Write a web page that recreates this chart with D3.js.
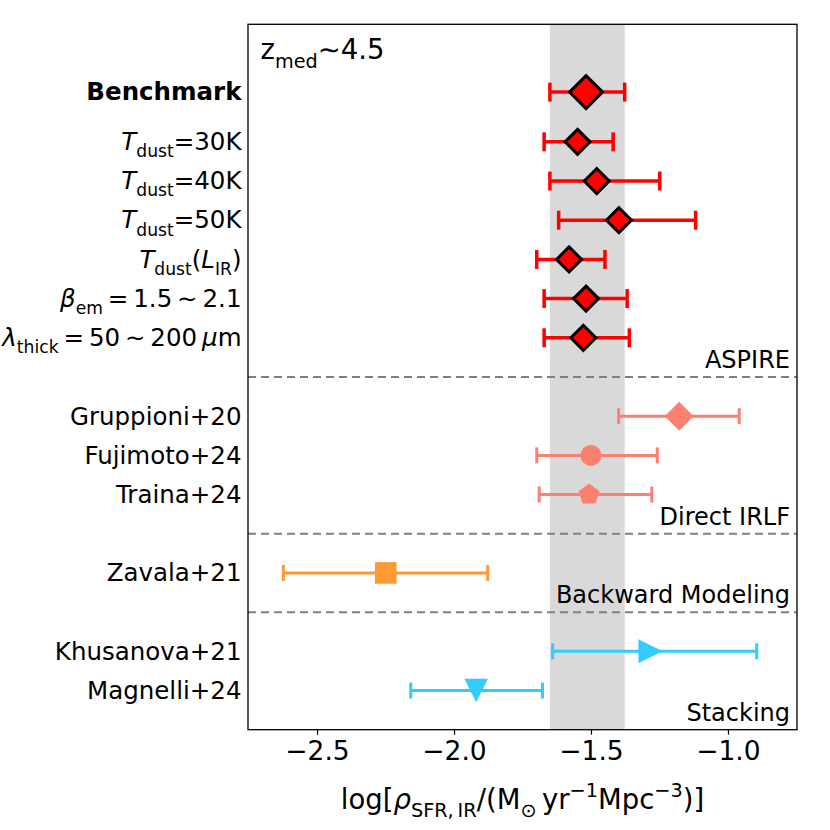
<!DOCTYPE html>
<html>
<head>
<meta charset="utf-8">
<script src="https://cdn.jsdelivr.net/npm/d3@7"></script>
<style>
  body { margin: 0; background: #fff; }
  svg { font-family: "DejaVu Sans", sans-serif; }
</style>
</head>
<body>
<svg id="chart" width="830" height="830"></svg>
<script>
// rows, top to bottom
const rowNames = ['Benchmark', 'Tdust=30K', 'Tdust=40K', 'Tdust=50K', 'Tdust(LIR)', 'beta_em', 'lambda_thick',
  'Gruppioni+20', 'Fujimoto+24', 'Traina+24', 'Zavala+21', 'Khusanova+21', 'Magnelli+24'];
const rowY = [16.27, 15, 14, 13, 12, 11, 10, 8, 7, 6, 4, 2, 1];
const centers = [-1.518, -1.549, -1.479, -1.398, -1.580, -1.518, -1.528, -1.178, -1.500, -1.507, -2.249, -1.283, -1.919];
const lowers  = [-1.650, -1.671, -1.650, -1.618, -1.698, -1.671, -1.671, -1.399, -1.698, -1.689, -2.623, -1.640, -2.158];
const uppers  = [-1.377, -1.419, -1.249, -1.118, -1.449, -1.368, -1.360, -0.959, -1.258, -1.278, -1.877, -0.895, -1.677];
const markers = ['D', 'D', 'D', 'D', 'D', 'D', 'D', 'D', 'o', 'p', 's', '>', 'v'];
const groups  = ['ASPIRE', 'ASPIRE', 'ASPIRE', 'ASPIRE', 'ASPIRE', 'ASPIRE', 'ASPIRE',
  'Direct IRLF', 'Direct IRLF', 'Direct IRLF', 'Backward Modeling', 'Stacking', 'Stacking'];

// tick label text pieces: [text, kind]  (thin spaces as in mathtext)
const labelParts = [
  [['Benchmark', 'b']],
  [['T', 'i'], ['dust', 'sub'], ['=30K', '']],
  [['T', 'i'], ['dust', 'sub'], ['=40K', '']],
  [['T', 'i'], ['dust', 'sub'], ['=50K', '']],
  [['T', 'i'], ['dust', 'sub'], ['(', ''], ['L', 'i'], ['IR', 'sub'], [')', '']],
  [['β', 'i'], ['em', 'sub'], ['\u2009=\u20091.5\u2009∼\u20092.1', '']],
  [['λ', 'i'], ['thick', 'sub'], ['\u2009=\u200950\u2009∼\u2009200\u2009', ''], ['μ', 'i'], ['m', '']],
  [['Gruppioni+20', '']],
  [['Fujimoto+24', '']],
  [['Traina+24', '']],
  [['Zavala+21', '']],
  [['Khusanova+21', '']],
  [['Magnelli+24', '']]
];

const sectionNames = ['ASPIRE', 'Direct IRLF', 'Backward Modeling', 'Stacking'];
const sectionFloor = [9, 5, 3, 0];
const dividers = [9, 5, 3];
const band = [-1.650, -1.377];
const xTicks = [-2.5, -2.0, -1.5, -1.0];
const xDomain = [-2.752, -0.748];
const yDomain = [0, 18];

const colors = {
  'ASPIRE': '#ff0000',
  'Direct IRLF': '#fa8072',
  'Backward Modeling': '#ff9933',
  'Stacking': '#33ccff'
};

const svg = d3.select('#chart');
const margin = { top: 24.3, right: 33, bottom: 100.3, left: 248 };
const width = 830, height = 830;

const x = d3.scaleLinear().domain(xDomain).range([margin.left, width - margin.right]);
const y = d3.scaleLinear().domain(yDomain).range([height - margin.bottom, margin.top]);

// shaded band
svg.append('rect')
  .attr('x', x(band[0]))
  .attr('y', y(yDomain[1]))
  .attr('width', x(band[1]) - x(band[0]))
  .attr('height', y(yDomain[0]) - y(yDomain[1]))
  .attr('fill', 'gray')
  .attr('fill-opacity', 0.3);

// dividers
svg.append('g')
  .selectAll('line')
  .data(dividers)
  .enter()
  .append('line')
  .attr('x1', x(xDomain[0]))
  .attr('x2', x(xDomain[1]))
  .attr('y1', d => y(d))
  .attr('y2', d => y(d))
  .attr('stroke', 'gray')
  .attr('stroke-width', 2)
  .attr('stroke-dasharray', '8,5');

// error bars
const idx = d3.range(rowNames.length);
const bars = svg.append('g');
idx.forEach(i => {
  const c = colors[groups[i]];
  const red = groups[i] === 'ASPIRE';
  const lw = red ? 3.5 : 3;
  const cap = red ? 9.5 : 8;
  const yy = y(rowY[i]);
  bars.append('line')
    .attr('x1', x(lowers[i])).attr('x2', x(uppers[i]))
    .attr('y1', yy).attr('y2', yy)
    .attr('stroke', c).attr('stroke-width', lw);
  [lowers[i], uppers[i]].forEach(v => {
    bars.append('line')
      .attr('x1', x(v)).attr('x2', x(v))
      .attr('y1', yy - cap).attr('y2', yy + cap)
      .attr('stroke', c).attr('stroke-width', lw);
  });
});

function markerPath(type, h) {
  if (type === 'D') return `M0,${-h}L${h},0L0,${h}L${-h},0Z`;
  if (type === 's') return `M${-h},${-h}H${h}V${h}H${-h}Z`;
  if (type === '>') return `M${h},0L${-h},${-h}L${-h},${h}Z`;
  if (type === 'v') return `M${-h},${-h}L${h},${-h}L0,${h}Z`;
  if (type === 'p') {
    const pts = d3.range(5).map(k => {
      const a = -Math.PI / 2 + k * 2 * Math.PI / 5;
      return [h * Math.cos(a), h * Math.sin(a)];
    });
    return 'M' + pts.map(p => p.join(',')).join('L') + 'Z';
  }
  return d3.symbol(d3.symbolCircle, Math.PI * h * h)();
}

const markerHalf = { 'D': 12.5, 'o': 10.5, 'p': 11, 's': 10.8, '>': 12, 'v': 11.8 };

svg.append('g')
  .selectAll('path')
  .data(idx)
  .enter()
  .append('path')
  .attr('transform', i => `translate(${x(centers[i])},${y(rowY[i])})`)
  .attr('d', i => {
    let h = markerHalf[markers[i]];
    if (i === 0) h = 16.5;
    if (groups[i] === 'Direct IRLF' && markers[i] === 'D') h = 14.5;
    return markerPath(markers[i], h);
  })
  .attr('fill', i => colors[groups[i]])
  .attr('stroke', i => groups[i] === 'ASPIRE' ? '#000' : 'none')
  .attr('stroke-width', 3)
  .attr('stroke-linejoin', 'miter');

// section labels
svg.append('g')
  .selectAll('text')
  .data(sectionNames)
  .enter()
  .append('text')
  .attr('x', x(xDomain[1]) - 7)
  .attr('y', (d, i) => y(sectionFloor[i]) - 9)
  .attr('text-anchor', 'end')
  .attr('font-size', 24)
  .text(d => d);

// frame
svg.append('rect')
  .attr('x', x(xDomain[0]))
  .attr('y', y(yDomain[1]))
  .attr('width', x(xDomain[1]) - x(xDomain[0]))
  .attr('height', y(yDomain[0]) - y(yDomain[1]))
  .attr('fill', 'none')
  .attr('stroke', '#000')
  .attr('stroke-width', 1.3);

// x axis
const xAxis = svg.append('g')
  .attr('transform', `translate(0,${y(yDomain[0])})`)
  .call(d3.axisBottom(x).tickValues(xTicks).tickFormat(d3.format('.1f')).tickSize(5).tickPadding(6));
xAxis.select('.domain').remove();
xAxis.selectAll('line').attr('stroke', '#000').attr('stroke-width', 1.2);
xAxis.selectAll('text')
  .attr('font-size', 26.5)
  .attr('font-family', 'DejaVu Sans')
  .attr('fill', '#000');

// rich text helper
function addParts(textSel, parts, size) {
  let shifted = 0;
  parts.forEach(([t, kind]) => {
    const ts = textSel.append('tspan').text(t);
    let target = 0;
    if (kind === 'sub') target = size * 0.3;
    if (kind === 'sup') target = -size * 0.42;
    if (kind === 'sub' || kind === 'sup') ts.attr('font-size', size * 0.7);
    if (kind === 'i') ts.attr('font-style', 'italic');
    if (kind === 'b') ts.attr('font-weight', 'bold');
    if (target !== shifted) { ts.attr('dy', target - shifted); shifted = target; }
  });
}

// y tick labels
const labelShift = [8, 8, 8, 8, 8.5, 8, 8, 8.5, 8.5, 8.5, 8.5, 8.3, 8.3];
const yLabels = svg.append('g');
idx.forEach(i => {
  const t = yLabels.append('text')
    .attr('x', x(xDomain[0]) - 6.5)
    .attr('y', y(rowY[i]) + labelShift[i])
    .attr('text-anchor', 'end')
    .attr('font-size', 24.5);
  addParts(t, labelParts[i], 24.5);
});

// redshift note
const zt = svg.append('text')
  .attr('x', x(xDomain[0]) + 12.5)
  .attr('y', y(yDomain[1]) + 35)
  .attr('font-size', 27.5);
addParts(zt, [['z', ''], ['med', 'sub'], ['∼4.5', '']], 27.5);

// x axis title
const xl = svg.append('text')
  .attr('x', (x(xDomain[0]) + x(xDomain[1])) / 2)
  .attr('y', 809)
  .attr('text-anchor', 'middle')
  .attr('font-size', 27.5);
addParts(xl, [['log[', ''], ['ρ', 'i'], ['SFR,\u2009IR', 'sub'], ['/(M', ''], ['⊙', 'sub'], ['\u2009yr', ''],
  ['−1', 'sup'], ['Mpc', ''], ['−3', 'sup'], [')]', '']], 27.5);
</script>
</body>
</html>
